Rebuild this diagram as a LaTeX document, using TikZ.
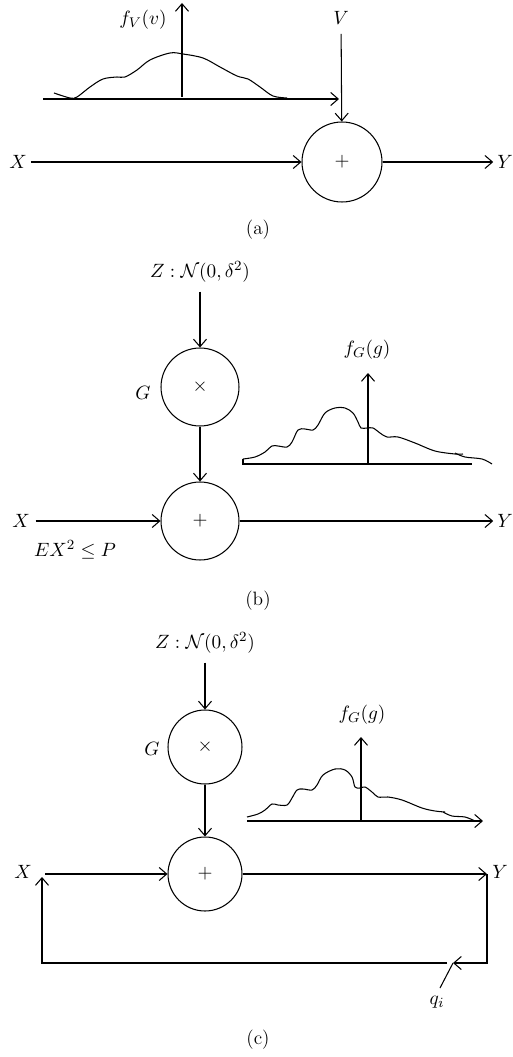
\documentclass[tikz,border=0pt]{standalone}
\usetikzlibrary{arrows.meta}

\begin{document}
\begin{tikzpicture}[
  x=0.02cm, y=-0.02cm,
  font=\fontsize{11}{13}\selectfont,
  line width=0.6pt,
  >={Straight Barb[length=1.5mm,width=2.6mm]},
  op/.style={draw, circle, inner sep=0pt, minimum size=#1},
  op/.default=1.56cm,
  lbl/.style={inner sep=2pt},
  density/.style={line width=0.6pt, smooth, tension=0.55},
  caption/.style={font=\fontsize{11}{13}\selectfont}
]
\useasboundingbox (0,0) rectangle (512,1057);

% (a) additive noise
\node[op=1.6cm] (suma) at (342,162) {$+$};
\node[lbl] (xa) at (18,162) {$X$};
\node[lbl] (ya) at (505,162) {$Y$};
\node[lbl] (va) at (341,18) {$V$};
\node[lbl] (fva) at (143,20) {$f_V(v)$};
\coordinate (va0) at (43,99);
\coordinate (va1) at (339,99);
\coordinate (vax0) at (182,97);
\coordinate (vax1) at (182,3);
\draw[->] (va0) -- (va1);
\draw[->] (vax0) -- (vax1);
\draw[density] plot coordinates {(54,93) (70,98) (77,97) (90,87) (103,79) (117,77) (125,77)
  (137,70) (150,60) (170,53) (183,54) (203,58) (220,67) (237,76) (248,79) (260,87) (273,96) (287,98)};
\draw[->, shorten <=3pt] (va) -- (suma);
\draw[->] (xa) -- (suma);
\draw[->] (suma) -- (ya);
\node[caption] (capa) at (258,230) {(a)};

% (b) multiplicative fading
\node[lbl] (zb) at (200,272) {$Z:\mathcal{N}(0,\delta^2)$};
\node[op] (mulb) at (200,387) {$\times$};
\node[lbl] (gb) at (143,393) {$G$};
\node[op] (sumb) at (200,521) {$+$};
\node[lbl] (xb) at (21,521) {$X$};
\node[lbl] (yb) at (505,521) {$Y$};
\node[lbl] (pb) at (75,550) {$EX^2\le P$};
\node[lbl] (fgb) at (367,350) {$f_G(g)$};
\draw[->, shorten <=3pt] (zb) -- (mulb);
\draw[->] (mulb) -- (sumb);
\draw[->, shorten <=1pt] (xb) -- (sumb);
\draw[->] (sumb) -- (yb);
\coordinate (gb0) at (243,459);
\coordinate (gb1) at (243,464);
\coordinate (gb2) at (472,464);
\coordinate (gbx0) at (368,464);
\coordinate (gbx1) at (368,373);
\draw (gb0) -- (gb1) -- (gb2);
\draw[->] (gbx0) -- (gbx1);
\draw[density] plot coordinates {(243,459) (255,457) (265,452) (272,446) (278,446) (287,447)
  (292,442) (298,430) (305,429) (313,430) (318,425) (325,413) (335,408) (345,408) (353,413)
  (358,422) (361,428) (367,428) (373,428) (380,433) (387,437) (398,437) (415,443) (435,451)
  (455,454) (463,454)};
\draw[density] plot coordinates {(455,453) (465,457) (482,459) (492,464)};
\node[caption] (capb) at (258,601) {(b)};

% (c) with feedback
\node[lbl] (zc) at (205,643) {$Z:\mathcal{N}(0,\delta^2)$};
\node[op=1.48cm] (mulc) at (205,747) {$\times$};
\node[lbl] (gc) at (152,749) {$G$};
\node[op=1.48cm] (sumc) at (205,874) {$+$};
\node[lbl] (xc) at (23,872) {$X$};
\node[lbl] (yc) at (500,872) {$Y$};
\node[lbl] (fgc) at (362,715) {$f_G(g)$};
\node[lbl] (qi) at (437,1002) {$q_i$};
\draw[->, shorten <=3pt] (zc) -- (mulc);
\draw[->] (mulc) -- (sumc);
\coordinate (xc0) at (45,874);
\draw[->] (xc0) -- (sumc);
\coordinate (yc0) at (487,874);
\coordinate (bc1) at (487,963);
\coordinate (qc) at (453,963);
\coordinate (bc2) at (447,963);
\coordinate (bc0) at (42,963);
\coordinate (xc1) at (42,877);
\coordinate (qt) at (440,988);
\draw[->] (sumc) -- (yc0);
\draw[->] (yc0) -- (bc1) -- (qc);
\draw[->] (bc2) -- (bc0) -- (xc1);
\draw (qt) -- (qc);
\coordinate (gc0) at (247,821);
\coordinate (gc1) at (483,821);
\coordinate (gcx0) at (361,821);
\coordinate (gcx1) at (361,737);
\draw[->] (gc0) -- (gc1);
\draw[->] (gcx0) -- (gcx1);
\draw[density] plot coordinates {(247,817) (258,814) (265,810) (272,804) (278,805) (287,805)
  (292,798) (297,790) (303,789) (312,790) (317,785) (323,775) (335,769) (345,770) (352,777)
  (355,787) (360,788) (365,787) (372,792) (378,797) (388,797) (402,800) (422,808) (435,811)
  (445,812)};
\draw[density] plot coordinates {(443,812) (452,816) (465,817) (475,821)};
\node[caption] (capc) at (258,1040) {(c)};
\end{tikzpicture}
\end{document}
